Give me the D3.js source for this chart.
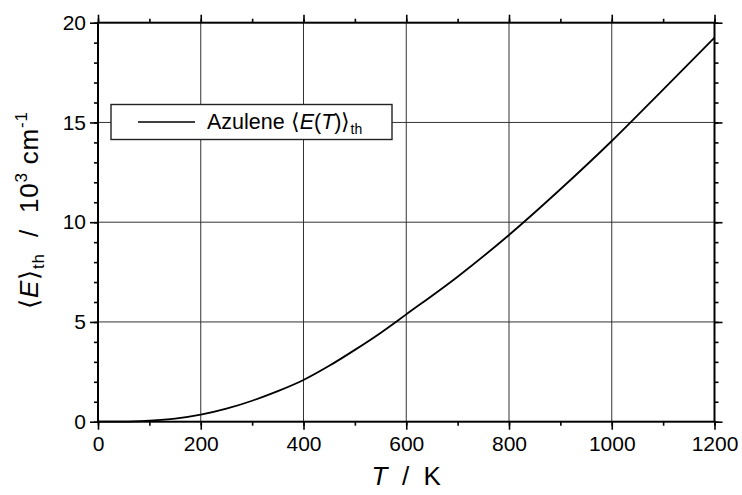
<!DOCTYPE html>
<html lang="en">
	<head>
		<meta charset="utf-8">
		<title>azulene thermal energy</title>
		<script type="text/javascript" src="https://d3js.org/d3.v7.min.js"></script>
		<style type="text/css">
            body{margin:0;background:#fff;font-family:"Liberation Sans",Arial,Helvetica,sans-serif;}
		</style>
	</head>
	<body>
    <div id="chart1"></div>
		<script type="text/javascript">
            //temperature in K and mean thermal energy in 10^3 cm-1
            var temps = [0,50,100,150,200,250,300,350,400,450,500,550,600,700,800,900,1000,1100,1200]
            var energy = [0,0,0.05,0.15,0.35,0.65,1.05,1.53,2.09,2.8,3.6,4.45,5.38,7.27,9.36,11.65,14.07,16.65,19.25]
            var xTicks = [0,200,400,600,800,1000,1200]
            var yTicks = [0,5,10,15,20]
            var legendLabel = "Azulene"

            drawChart()

            function drawChart(){
                var w = 742
                var h = 495
                //plot box edges (note: "top" is reserved on window, so use pl/pr/pt/pb)
                var pl = 98, pr = 714.5, pt = 22.7, pb = 421.7
                var nb = "\u00A0"

                var xScale = d3.scaleLinear().domain([0,1200]).range([pl,pr])
                var yScale = d3.scaleLinear().domain([0,20]).range([pb,pt])

                var svg = d3.select("#chart1")
                            .append("svg")
                            .attr("width",w)
                            .attr("height",h)
                            .style("font-family","'Liberation Sans',Arial,Helvetica,sans-serif")

                //grid lines at the major ticks
                svg.selectAll(".vgrid")
                    .data(xTicks.slice(1,-1))
                    .enter()
                    .append("line")
                    .attr("x1",function(d){ return xScale(d) })
                    .attr("x2",function(d){ return xScale(d) })
                    .attr("y1",pt).attr("y2",pb)
                    .attr("stroke","#333").attr("stroke-width",1)
                svg.selectAll(".hgrid")
                    .data(yTicks.slice(1,-1))
                    .enter()
                    .append("line")
                    .attr("y1",function(d){ return yScale(d) })
                    .attr("y2",function(d){ return yScale(d) })
                    .attr("x1",pl).attr("x2",pr)
                    .attr("stroke","#333").attr("stroke-width",1)

                //four axes, ticks pointing outwards, labels only bottom and left
                var xMinor = d3.range(0,1201,100)
                var yMinor = d3.range(0,21,1)
                function styleAxis(g){
                    g.select(".domain").remove()
                    g.selectAll("line").attr("stroke","#000").attr("stroke-width",1.6)
                    g.selectAll("text").attr("font-size",21).attr("fill","#000")
                }
                svg.append("g").attr("transform","translate(0,"+pb+")")
                    .call(d3.axisBottom(xScale).tickValues(xMinor).tickSize(4).tickFormat(""))
                    .call(styleAxis)
                svg.append("g").attr("transform","translate(0,"+pb+")")
                    .call(d3.axisBottom(xScale).tickValues(xTicks).tickSize(8).tickPadding(6).tickFormat(d3.format("d")))
                    .call(styleAxis)
                svg.append("g").attr("transform","translate(0,"+pt+")")
                    .call(d3.axisTop(xScale).tickValues(xMinor).tickSize(4).tickFormat(""))
                    .call(styleAxis)
                svg.append("g").attr("transform","translate(0,"+pt+")")
                    .call(d3.axisTop(xScale).tickValues(xTicks).tickSize(8).tickFormat(""))
                    .call(styleAxis)
                svg.append("g").attr("transform","translate("+pl+",0)")
                    .call(d3.axisLeft(yScale).tickValues(yMinor).tickSize(4).tickFormat(""))
                    .call(styleAxis)
                svg.append("g").attr("transform","translate("+pl+",0)")
                    .call(d3.axisLeft(yScale).tickValues(yTicks).tickSize(8).tickPadding(4).tickFormat(d3.format("d")))
                    .call(styleAxis)
                svg.append("g").attr("transform","translate("+pr+",0)")
                    .call(d3.axisRight(yScale).tickValues(yMinor).tickSize(4).tickFormat(""))
                    .call(styleAxis)
                svg.append("g").attr("transform","translate("+pr+",0)")
                    .call(d3.axisRight(yScale).tickValues(yTicks).tickSize(8).tickFormat(""))
                    .call(styleAxis)

                //frame
                svg.append("rect")
                    .attr("x",pl).attr("y",pt)
                    .attr("width",pr-pl).attr("height",pb-pt)
                    .attr("fill","none").attr("stroke","#000").attr("stroke-width",2)

                //the curve
                var data = temps.map(function(t,i){ return {t:t,e:energy[i]} })
                var line = d3.line()
                    .x(function(d){ return xScale(d.t) })
                    .y(function(d){ return yScale(d.e) })
                    .curve(d3.curveMonotoneX)
                svg.append("path")
                    .datum(data)
                    .attr("d",line)
                    .attr("fill","none")
                    .attr("stroke","#000")
                    .attr("stroke-width",1.8)

                //legend box
                var lg = svg.append("g")
                lg.append("rect")
                    .attr("x",111).attr("y",104.5)
                    .attr("width",281).attr("height",35)
                    .attr("fill","#fff").attr("stroke","#222").attr("stroke-width",1.4)
                lg.append("line")
                    .attr("x1",138).attr("x2",195)
                    .attr("y1",122).attr("y2",122)
                    .attr("stroke","#000").attr("stroke-width",1.6)
                var lt = lg.append("text")
                    .attr("x",207).attr("y",129)
                    .attr("font-size",21.5)
                lt.append("tspan").text(legendLabel+" \u27E8")
                lt.append("tspan").attr("font-style","italic").text("E")
                lt.append("tspan").text("(")
                lt.append("tspan").attr("font-style","italic").text("T")
                lt.append("tspan").text(")\u27E9")
                lt.append("tspan").attr("font-size",14).attr("dy",5).text("th")

                //x axis title
                var xt = svg.append("text")
                    .attr("x",(pl+pr)/2).attr("y",485)
                    .attr("text-anchor","middle")
                    .attr("font-size",26)
                xt.append("tspan").attr("font-style","italic").text("T")
                xt.append("tspan").text(nb+nb+"/"+nb+nb+"K")

                //y axis title
                var yt = svg.append("text")
                    .attr("transform","translate(38,210) rotate(-90)")
                    .attr("text-anchor","middle")
                    .attr("font-size",26)
                    .attr("letter-spacing",0.8)
                yt.append("tspan").text("\u27E8")
                yt.append("tspan").attr("font-style","italic").text("E")
                yt.append("tspan").text("\u27E9")
                yt.append("tspan").attr("font-size",17).attr("dy",6).text("th")
                yt.append("tspan").attr("dy",-6).text(nb+nb+"/"+nb+nb+"10")
                yt.append("tspan").attr("font-size",17).attr("dy",-11).text("3")
                yt.append("tspan").attr("dy",11).text(nb+"cm")
                yt.append("tspan").attr("font-size",17).attr("dy",-11).text("-1")
            }
        </script>
	</body>
</html>
